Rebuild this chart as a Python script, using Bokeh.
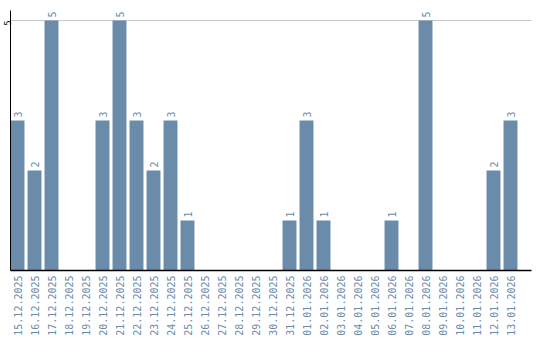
from math import pi
from bokeh.plotting import figure
from bokeh.models import ColumnDataSource, FixedTicker, Range1d, Title
from bokeh.core.properties import value
from bokeh.embed import file_html
from bokeh.resources import INLINE

dates = ["15.12.2025", "16.12.2025", "17.12.2025", "18.12.2025", "19.12.2025",
         "20.12.2025", "21.12.2025", "22.12.2025", "23.12.2025", "24.12.2025",
         "25.12.2025", "26.12.2025", "27.12.2025", "28.12.2025", "29.12.2025",
         "30.12.2025", "31.12.2025", "01.01.2026", "02.01.2026", "03.01.2026",
         "04.01.2026", "05.01.2026", "06.01.2026", "07.01.2026", "08.01.2026",
         "09.01.2026", "10.01.2026", "11.01.2026", "12.01.2026", "13.01.2026"]
counts = [3, 2, 5, 0, 0, 3, 5, 3, 2, 3, 1, 0, 0, 0, 0, 0, 1, 3, 1, 0,
          0, 0, 1, 0, 5, 0, 0, 0, 2, 3]
y_ticks = [5]

BAR = "#6b8bab"
TXT = "#6b8bab"

idx = list(range(len(dates)))
src = ColumnDataSource(dict(x=idx, y=counts))
lab_x = [i for i, c in zip(idx, counts) if c]
lab_y = [c for c in counts if c]
lab_src = ColumnDataSource(dict(x=lab_x, y=lab_y, t=[str(c) for c in lab_y]))

XMIN, XMAX = -0.412, 30.235
p = figure(width=540, height=340, output_backend="svg", toolbar_location=None,
           x_range=Range1d(XMIN, XMAX), y_range=Range1d(0, 5.2),
           min_border_left=10, min_border_right=9, min_border_top=10, min_border_bottom=70)
p.outline_line_color = None
p.background_fill_color = "white"
p.border_fill_color = "white"

p.vbar(x="x", top="y", width=0.82, source=src, fill_color=BAR, line_color=None)
p.text(x="x", y="y", text="t", source=lab_src, angle=pi / 2, text_align="left",
       text_baseline="middle", y_offset=-3, text_color=TXT,
       text_font=value("DejaVu Sans Mono"), text_font_size="10px")

p.xgrid.grid_line_color = None
p.ygrid.ticker = FixedTicker(ticks=y_ticks)
p.ygrid.grid_line_color = "#c8c8c8"
p.ygrid.grid_line_width = 1

xa = p.xaxis[0]
xa.ticker = FixedTicker(ticks=idx)
xa.major_label_overrides = {i: d for i, d in zip(idx, dates)}
xa.major_label_orientation = pi / 2
xa.major_label_text_font = "DejaVu Sans Mono"
xa.major_label_text_font_size = "10px"
xa.major_label_text_color = TXT
xa.major_label_standoff = 5
xa.major_tick_out = 0
xa.major_tick_in = 0
xa.minor_tick_out = 0
xa.minor_tick_in = 0
xa.major_tick_line_color = None
xa.minor_tick_line_color = None
xa.axis_line_color = "black"
xa.axis_line_width = 1.5

ya = p.yaxis[0]
ya.ticker = FixedTicker(ticks=y_ticks)
ya.major_label_overrides = {t: "" for t in y_ticks}
ya.major_label_text_font_size = "1px"
ya.major_label_standoff = 0
ya.major_tick_out = 0
ya.major_tick_in = 0
ya.minor_tick_out = 0
ya.minor_tick_in = 0
ya.major_tick_line_color = None
ya.minor_tick_line_color = None
ya.axis_line_color = "black"
ya.axis_line_width = 1

# y tick label "5" (top tick), placed in the left border next to its gridline
p.add_layout(Title(text=str(y_ticks[0]), align="right", offset=10, standoff=0,
                   text_font="DejaVu Sans", text_font_size="8px",
                   text_font_style="normal", text_color="black"), "left")

open("out.html", "w").write(file_html(p, INLINE))
